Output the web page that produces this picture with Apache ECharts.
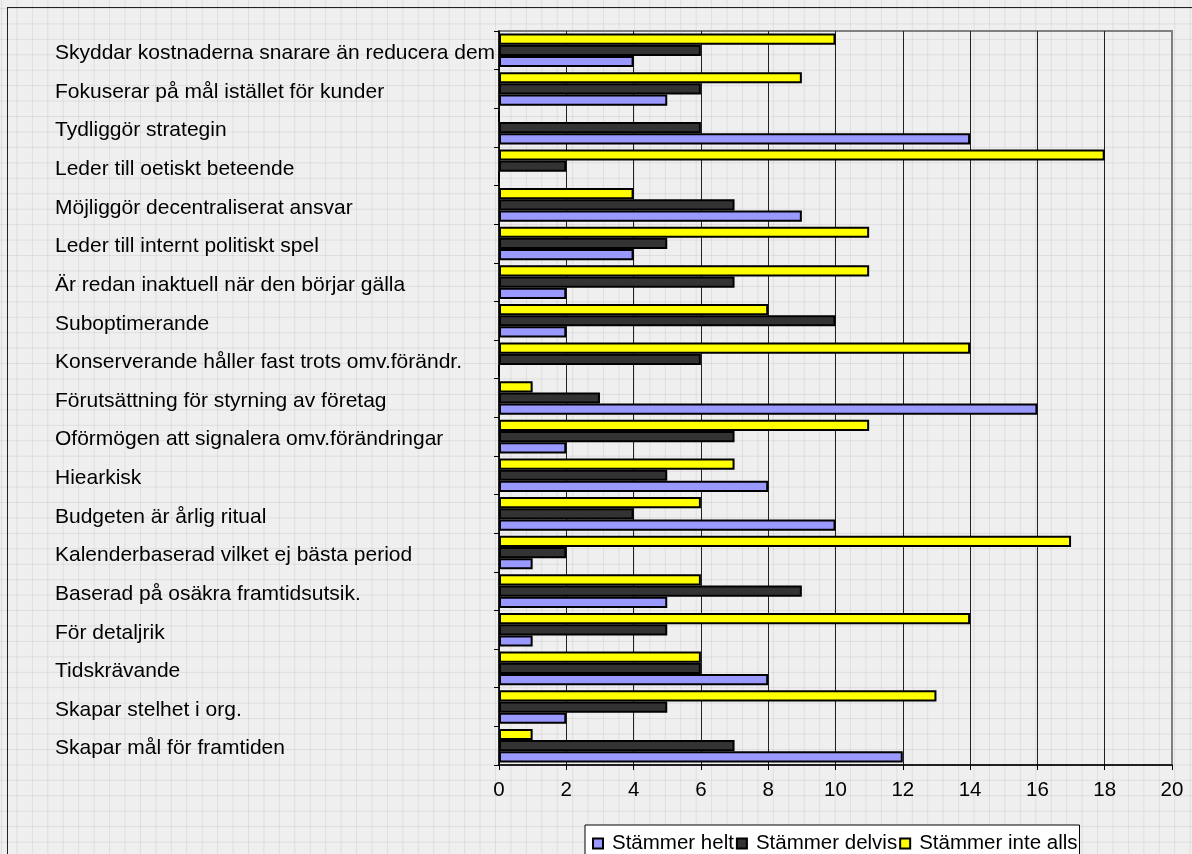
<!DOCTYPE html>
<html>
<head>
<meta charset="utf-8">
<script src="https://cdn.jsdelivr.net/npm/echarts@6/dist/echarts.min.js"></script>
<style>
  html, body { margin: 0; padding: 0; }
  body {
    width: 1192px; height: 854px; overflow: hidden;
    background-color: #efefef;
    background-image:
      linear-gradient(to right, rgba(0,0,0,0.07) 1px, transparent 1px),
      linear-gradient(to bottom, rgba(0,0,0,0.07) 1px, transparent 1px);
    background-size: 15.45px 15.45px;
    background-position: 1px 8px;
    position: relative;
  }
  #frame {
    position: absolute; left: 7px; top: 7px; width: 1200px; height: 900px;
    border-left: 1.5px solid #222; border-top: 1.5px solid #222;
    box-sizing: border-box;
  }
  #chart { position: absolute; left: 0; top: 0; width: 1192px; height: 854px; }
</style>
</head>
<body>
<div id="frame"></div>
<div id="chart"></div>
<script>
// Statements, listed from top to bottom as they appear on the chart
const categories = [
  'Skyddar kostnaderna snarare än reducera dem',
  'Fokuserar på mål istället för kunder',
  'Tydliggör strategin',
  'Leder till oetiskt beteende',
  'Möjliggör decentraliserat ansvar',
  'Leder till internt politiskt spel',
  'Är redan inaktuell när den börjar gälla',
  'Suboptimerande',
  'Konserverande håller fast trots omv.förändr.',
  'Förutsättning för styrning av företag',
  'Oförmögen att signalera omv.förändringar',
  'Hiearkisk',
  'Budgeten är årlig ritual',
  'Kalenderbaserad vilket ej bästa period',
  'Baserad på osäkra framtidsutsik.',
  'För detaljrik',
  'Tidskrävande',
  'Skapar stelhet i org.',
  'Skapar mål för framtiden'
];

const seriesNames = ['Stämmer helt', 'Stämmer delvis', 'Stämmer inte alls'];

// Number of answers per statement
const stammerHelt    = [4, 5, 14, 0, 9, 4, 2, 2, 0, 16, 2, 8, 10, 1, 5, 1, 8, 2, 12];
const stammerDelvis  = [6, 6, 6, 2, 7, 5, 7, 10, 6, 3, 7, 5, 4, 2, 9, 5, 6, 5, 7];
const stammerInteAlls = [10, 9, 0, 18, 4, 11, 11, 8, 14, 1, 11, 7, 6, 17, 6, 14, 6, 13, 1];

const xTicks = { min: 0, max: 20, interval: 2 };

const colors = ['#9999ff', '#333333', '#ffff00'];
const values = [stammerHelt, stammerDelvis, stammerInteAlls];

const chart = echarts.init(document.getElementById('chart'), null, { renderer: 'canvas' });

const font = '"Liberation Sans", Arial, Helvetica, sans-serif';

chart.setOption({
  backgroundColor: 'transparent',
  animation: false,
  textStyle: { fontFamily: font, color: '#000' },
  grid: {
    left: 499, right: 20, top: 31, bottom: 89,
    show: true, borderColor: '#808080', borderWidth: 2,
    backgroundColor: 'transparent'
  },
  legend: {
    data: seriesNames,
    left: 585, top: 825,
    orient: 'horizontal',
    itemWidth: 10, itemHeight: 10,
    itemGap: 2,
    backgroundColor: '#ffffff',
    borderColor: '#000000', borderWidth: 1,
    padding: [8, 2, 30, 7],
    textStyle: { fontSize: 20.5, fontFamily: font, color: '#000', padding: [0, 0, 0, 4] },
    icon: 'rect'
  },
  xAxis: {
    type: 'value',
    min: xTicks.min, max: xTicks.max, interval: xTicks.interval,
    axisLine: { show: true, lineStyle: { color: '#000', width: 1.5 } },
    axisTick: { show: true, length: 5, lineStyle: { color: '#000' } },
    axisLabel: { fontSize: 20.5, fontFamily: font, color: '#000', margin: 15 },
    splitLine: { show: true, showMaxLine: false, lineStyle: { color: '#222', width: 1 } }
  },
  yAxis: {
    type: 'category',
    data: categories,
    inverse: true,
    axisLine: { show: true, lineStyle: { color: '#000', width: 1.5 } },
    axisTick: { show: true, length: 5, lineStyle: { color: '#000' } },
    axisLabel: {
      fontSize: 21, fontFamily: font, color: '#000',
      align: 'left', margin: 444,
      width: 443, overflow: 'truncate', ellipsis: '',
      verticalAlign: 'top', lineHeight: 6
    },
    splitLine: { show: false }
  },
  series: seriesNames.map((name, i) => ({
    name: name,
    type: 'bar',
    data: values[i],
    barGap: '0%',
    barCategoryGap: '13%',
    itemStyle: { color: colors[i], borderColor: '#000', borderWidth: 2 }
  })).reverse()
});
</script>
</body>
</html>
